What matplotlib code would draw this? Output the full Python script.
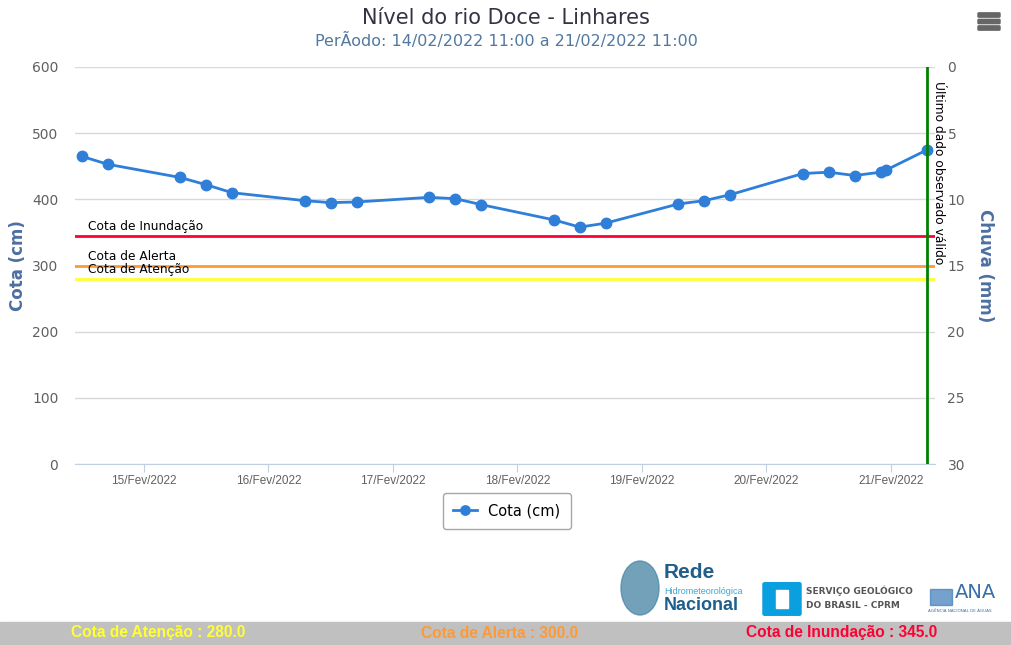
import numpy as np
import pandas as pd
import matplotlib
matplotlib.use('Agg')
import matplotlib.pyplot as plt
from matplotlib.patches import Rectangle, FancyBboxPatch, Ellipse

# data
horas = ['2022-02-14 12:00', '2022-02-14 17:00',
         '2022-02-15 07:00', '2022-02-15 12:00', '2022-02-15 17:00',
         '2022-02-16 07:00', '2022-02-16 12:00', '2022-02-16 17:00',
         '2022-02-17 07:00', '2022-02-17 12:00', '2022-02-17 17:00',
         '2022-02-18 07:00', '2022-02-18 12:00', '2022-02-18 17:00',
         '2022-02-19 07:00', '2022-02-19 12:00', '2022-02-19 17:00',
         '2022-02-20 07:00', '2022-02-20 12:00', '2022-02-20 17:00',
         '2022-02-20 22:00', '2022-02-20 23:00', '2022-02-21 07:00']
cota = [465, 453, 433, 422, 410, 398, 395, 396, 403, 401, 392,
        369, 358, 364, 393, 398, 407, 439, 441, 436, 441, 444, 475]

cota_atencao = 280.0
cota_alerta = 300.0
cota_inundacao = 345.0

tick_dias = ['2022-02-15', '2022-02-16', '2022-02-17', '2022-02-18',
             '2022-02-19', '2022-02-20', '2022-02-21']
tick_labels = ['15/Fev/2022', '16/Fev/2022', '17/Fev/2022', '18/Fev/2022',
               '19/Fev/2022', '20/Fev/2022', '21/Fev/2022']

t = pd.to_datetime(horas)
ultimo = t[-1]

fig = plt.figure(figsize=(10.12, 6.45), dpi=100)
ax = fig.add_axes([75/1012, 1-464/645, 860/1012, 397/645])

azul = '#2f7ed8'
ax.plot(t, cota, color=azul, lw=2, marker='o', ms=7.5, label='Cota (cm)', zorder=5)

# limiares
ax.axhline(cota_inundacao, color='#ff0033', lw=2, zorder=3)
ax.axhline(cota_alerta, color='#ff9933', lw=2, zorder=3)
ax.axhline(cota_atencao, color='#ffff33', lw=2, zorder=3)
for val, txt in [(cota_inundacao, 'Cota de Inundação'),
                 (cota_alerta, 'Cota de Alerta'),
                 (cota_atencao, 'Cota de Atenção')]:
    ax.annotate(txt, xy=(0, val), xycoords=('axes fraction', 'data'),
                xytext=(13, 3), textcoords='offset pixels',
                fontsize=8.8, color='black', va='bottom', ha='left')

# ultimo dado
ax.axvline(ultimo, color='#008000', lw=2, zorder=6)
ax.annotate('Último dado observado válido', xy=(ultimo, 600), xycoords='data',
            xytext=(5, -14), textcoords='offset pixels',
            rotation=270, fontsize=8.8, va='top', ha='left', color='black')

ax.set_ylim(0, 600)
ax.set_yticks(np.arange(0, 601, 100))
ax.set_xlim(pd.Timestamp('2022-02-14 10:42'), pd.Timestamp('2022-02-21 08:29'))
ax.set_xticks(pd.to_datetime(tick_dias))
ax.set_xticklabels(tick_labels, fontsize=8.5, color='#606060', family='Liberation Sans')
ax.grid(axis='y', color='#d8d8d8', lw=1)
ax.set_axisbelow(True)
for s in ['top', 'left', 'right']:
    ax.spines[s].set_visible(False)
ax.spines['bottom'].set_color('#c0d0e0')
ax.tick_params(axis='x', color='#c0d0e0', length=6, pad=2)
ax.tick_params(axis='y', length=0, labelsize=10, labelcolor='#606060', pad=12)
ax.set_ylabel('Cota (cm)', color='#4d6fa0', fontsize=12, fontweight='bold')
ax.yaxis.set_label_coords(-0.056, 0.5)

ax2 = ax.twinx()
ax2.set_ylim(30, 0)
ax2.set_yticks(np.arange(0, 31, 5))
for s in ['top', 'left', 'right', 'bottom']:
    ax2.spines[s].set_visible(False)
ax2.tick_params(axis='y', length=0, labelsize=10, labelcolor='#606060', pad=9)
ax2.set_ylabel('Chuva (mm)', color='#4d6fa0', fontsize=12, fontweight='bold',
               rotation=270, va='center')
ax2.yaxis.set_label_coords(1.058, 0.5)

leg = ax.legend(loc='center', bbox_to_anchor=(507/1012, 1-511/645),
                bbox_transform=fig.transFigure, fontsize=10.5, frameon=True,
                fancybox=True, edgecolor='#909090', handlelength=1.6,
                borderpad=0.7, markerscale=0.9)
leg.get_frame().set_linewidth(1)

# titulos
fig.text(0.5, 1-18/645, 'Nível do rio Doce - Linhares', ha='center', va='center',
         fontsize=15, color='#333344')
fig.text(0.5, 1-41/645, 'PerÃodo: 14/02/2022 11:00 a 21/02/2022 11:00', ha='center',
         va='center', fontsize=11.5, color='#5278a0')

# menu
for yy in [15, 21.5, 28]:
    fig.patches.append(FancyBboxPatch((979/1012, 1-(yy+1.5)/645), 20/1012, 3/645,
                                      boxstyle='round,pad=0.001',
                                      transform=fig.transFigure, color='#666666'))

# logos (aproximados)
fig.patches.append(Ellipse((640/1012, 1-588/645), 38/1012, 54/645,
                           transform=fig.transFigure, color='#4f8aa8', alpha=0.8))
fig.text(664/1012, 1-572/645, 'Rede', fontsize=15, color='#1f5f8b', va='center',
         family='Liberation Sans', fontweight='bold')
fig.text(664/1012, 1-591/645, 'Hidrometeorológica', fontsize=6.5, color='#35a7d8',
         va='center', family='Liberation Sans')
fig.text(664/1012, 1-606/645, 'Nacional', fontsize=13, color='#1f5f8b', va='center',
         family='Liberation Sans', fontweight='bold')
fig.patches.append(FancyBboxPatch((765/1012, 1-614/645), 34/1012, 30/645,
                                  boxstyle='round,pad=0.002', transform=fig.transFigure,
                                  color='#0aa0e0'))
fig.patches.append(Rectangle((776/1012, 1-608/645), 12/1012, 18/645,
                             transform=fig.transFigure, color='white'))
fig.text(806/1012, 1-591/645, 'SERVIÇO GEOLÓGICO', fontsize=6.5, color='#555555',
         va='center', fontweight='bold')
fig.text(806/1012, 1-606/645, 'DO BRASIL - CPRM', fontsize=6.5, color='#555555',
         va='center', fontweight='bold')
fig.patches.append(Rectangle((930/1012, 1-605/645), 22/1012, 16/645,
                             transform=fig.transFigure, color='#3b7bb8', alpha=0.7))
fig.text(955/1012, 1-592/645, 'ANA', fontsize=14, color='#3b6fa8', va='center')
fig.text(928/1012, 1-611/645, 'AGÊNCIA NACIONAL DE ÁGUAS', fontsize=3, color='#3b6fa8',
         va='center')

# barra inferior
fig.patches.append(Rectangle((0, 0), 1, 23/645, transform=fig.transFigure,
                             color='#c0c0c0', zorder=0))
for xc, txt, cor in [(158, 'Cota de Atenção : 280.0', '#ffff33'),
                     (500, 'Cota de Alerta : 300.0', '#ff9933'),
                     (842, 'Cota de Inundação : 345.0', '#ff0033')]:
    fig.text(xc/1012, 1-633/645, txt, ha='center', va='center', fontsize=11.2,
             color=cor, fontweight='bold', family='Liberation Sans')

fig.savefig('out.png', dpi=100)
